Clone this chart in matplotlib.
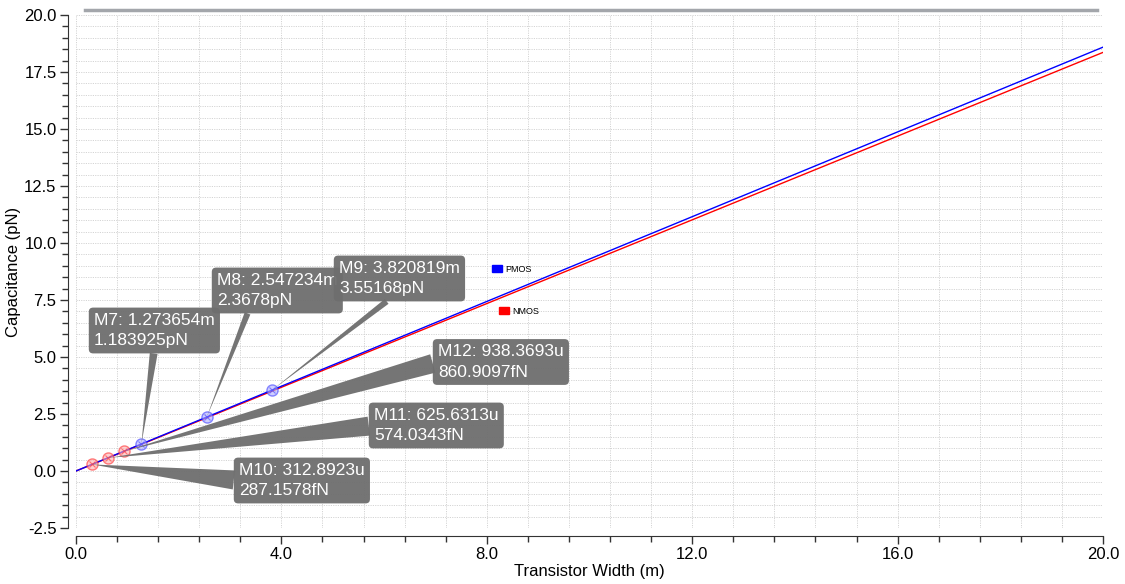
import matplotlib
matplotlib.use("Agg")
import matplotlib.pyplot as plt
from matplotlib.lines import Line2D
from matplotlib.patches import Patch
from matplotlib.ticker import MultipleLocator, FormatStrFormatter

plt.rcParams['font.family'] = ['Liberation Sans', 'DejaVu Sans']

# ---- data ----
pmos_x = [0.0, 1.273654, 2.547234, 3.820819, 20.0]
pmos_y = [0.0, 1.183925, 2.3678, 3.55168, 18.59]
nmos_x = [0.0, 0.3128923, 0.6256313, 0.9383693, 20.0]
nmos_y = [0.0, 0.2871578, 0.5740343, 0.8609097, 18.36]

pmos_mx = [1.273654, 2.547234, 3.820819]
pmos_my = [1.183925, 2.3678, 3.55168]
nmos_mx = [0.3128923, 0.6256313, 0.9383693]
nmos_my = [0.2871578, 0.5740343, 0.8609097]

marker_names = ["M7", "M8", "M9", "M10", "M11", "M12"]
marker_xlabels = ["1.273654m", "2.547234m", "3.820819m", "312.8923u", "625.6313u", "938.3693u"]
marker_ylabels = ["1.183925pN", "2.3678pN", "3.55168pN", "287.1578fN", "574.0343fN", "860.9097fN"]

fig = plt.figure(figsize=(11.25, 5.84), dpi=100)
ax = fig.add_axes([76/1125, 1-528/584, (1103-76)/1125, (528-15)/584])

ax.plot(nmos_x, nmos_y, color='#ff0000', lw=1.0, zorder=3)
ax.plot(pmos_x, pmos_y, color='#0000ff', lw=1.0, zorder=4)

for mx, my, c, fc in [(nmos_mx, nmos_my, '#ff3030', '#ffb0b0'), (pmos_mx, pmos_my, '#4040ff', '#b0b0ff')]:
    ax.plot(mx, my, ls='none', marker='o', ms=8, mfc=fc, mec=c, mew=1.0, alpha=0.6, zorder=5)
    ax.plot(mx, my, ls='none', marker='x', ms=4, mec=c, mew=0.8, alpha=0.6, zorder=5)

ax.set_xlim(0, 20)
ax.set_ylim(-2.5, 20)
ax.xaxis.set_major_locator(MultipleLocator(4.0))
ax.xaxis.set_minor_locator(MultipleLocator(0.8))
ax.yaxis.set_major_locator(MultipleLocator(2.5))
ax.yaxis.set_minor_locator(MultipleLocator(0.5))
ax.xaxis.set_major_formatter(FormatStrFormatter('%.1f'))
ax.yaxis.set_major_formatter(FormatStrFormatter('%.1f'))
ax.grid(True, which='both', color='#d4d4d4', ls=(0, (1.2, 1.2)), lw=0.7)
ax.set_axisbelow(True)
for s in ['top', 'right']:
    ax.spines[s].set_visible(False)
for s in ['left', 'bottom']:
    ax.spines[s].set_position(('outward', 6))
    ax.spines[s].set_color('#333333')
ax.tick_params(which='major', length=6, width=1, labelsize=12, color='#333333', pad=2)
ax.tick_params(which='minor', length=4, width=1, color='#333333')
ax.set_xlabel('Transistor Width (m)', fontsize=12, labelpad=1)
ax.set_ylabel('Capacitance (pN)', fontsize=12, labelpad=2)

# top gray bar
fig.add_artist(Line2D([85/1125, 1097/1125], [1-10/584, 1-10/584], color='#a3a6ab', lw=2.5))

# legends
h1 = [Patch(facecolor='#0000ff', edgecolor='#0000ff')]
h2 = [Patch(facecolor='#ff0000', edgecolor='#ff0000')]
leg1 = ax.legend(h1, ['PMOS'], loc='center left', bbox_to_anchor=((492-76)/1027, 1-(269.5-15)/513),
                 frameon=False, fontsize=6.5, handlelength=1.1, handleheight=0.8, handletextpad=0.4, borderpad=0, borderaxespad=0)
ax.add_artist(leg1)
ax.legend(h2, ['NMOS'], loc='center left', bbox_to_anchor=((499-76)/1027, 1-(311.5-15)/513),
          frameon=False, fontsize=6.5, handlelength=1.1, handleheight=0.8, handletextpad=0.4, borderpad=0, borderaxespad=0)

# callouts: (text left px, center y px, relpos, tail width)
pts = list(zip(pmos_mx, pmos_my)) + list(zip(nmos_mx, nmos_my))
layout = [
    (94, 330.5, (0.5, 0.0), 0.45),
    (217, 290.5, (0.27, 0.0), 0.35),
    (339, 278.5, (0.45, 0.0), 0.35),
    (239, 480.5, (0.0, 0.5), 1.1),
    (374, 425.5, (0.0, 0.5), 1.1),
    (438, 362.0, (0.0, 0.5), 1.1),
]
box_c = '#6e6e6e'
for (px, py), name, xl, yl, (tx, ty, rp, tw) in zip(pts, marker_names, marker_xlabels, marker_ylabels, layout):
    ax.annotate(f"{name}: {xl}\n{yl}", xy=(px, py),
                xytext=(tx, 584 - ty), textcoords='figure pixels',
                ha='left', va='center', fontsize=12.5, color='white', linespacing=1.45,
                bbox=dict(boxstyle='round,pad=0.3,rounding_size=0.25', fc=box_c, ec='none', alpha=0.95),
                arrowprops=dict(arrowstyle=f'wedge,tail_width={tw},shrink_factor=0.5', fc=box_c, ec='none',
                                alpha=0.95, relpos=rp, shrinkA=0, shrinkB=0),
                zorder=6)

fig.savefig('out.png', dpi=100)
